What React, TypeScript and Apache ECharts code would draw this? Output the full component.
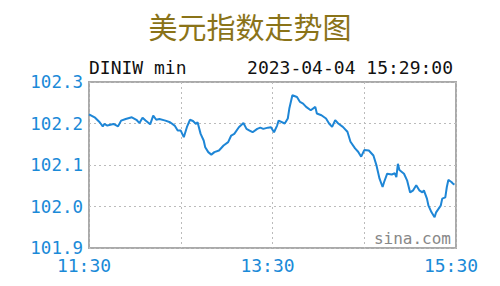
import React, { useEffect, useRef } from "react";
import * as echarts from "echarts";

const TITLE = "美元指数走势图";
const SYMBOL_LABEL = "DINIW min";
const TIMESTAMP = "2023-04-04 15:29:00";
const WATERMARK = "sina.com";

// minutes after 11:30
const minutes = [
  0, 4, 7, 9, 10, 12, 16, 19, 21, 24, 28, 31, 33, 35, 37, 40, 42, 44, 46, 50,
  53, 56, 58, 60, 62, 64, 66, 68, 70, 71, 73, 75, 76, 78, 80, 82, 85, 88, 91,
  93, 95, 98, 101, 103, 105, 107, 110, 112, 114, 117, 119, 121, 123, 124, 128,
  130, 131, 133, 136, 138, 140, 142, 145, 148, 149, 152, 155, 157, 159, 161,
  163, 166, 169, 171, 174, 176, 178, 180, 183, 186, 188, 190, 192, 193, 195,
  198, 200, 201, 202, 203, 206, 208, 210, 212, 214, 216, 218, 219, 221, 222,
  224, 226, 227, 230, 231, 233, 234, 235, 237, 238, 239,
];
const values = [
  102.222, 102.214, 102.203, 102.193, 102.199, 102.195, 102.199, 102.193,
  102.207, 102.211, 102.215, 102.209, 102.201, 102.214, 102.207, 102.198,
  102.219, 102.209, 102.211, 102.207, 102.203, 102.195, 102.183, 102.183,
  102.167, 102.191, 102.209, 102.206, 102.199, 102.203, 102.175, 102.159,
  102.143, 102.131, 102.125, 102.131, 102.135, 102.147, 102.155, 102.171,
  102.175, 102.191, 102.201, 102.187, 102.183, 102.179, 102.187, 102.19,
  102.187, 102.19, 102.191, 102.179, 102.195, 102.207, 102.2, 102.212,
  102.236, 102.268, 102.264, 102.252, 102.248, 102.24, 102.232, 102.24,
  102.224, 102.22, 102.212, 102.2, 102.192, 102.208, 102.2, 102.192, 102.18,
  102.156, 102.14, 102.132, 102.12, 102.136, 102.135, 102.123, 102.099,
  102.067, 102.047, 102.059, 102.079, 102.077, 102.08, 102.071, 102.103,
  102.088, 102.079, 102.063, 102.034, 102.039, 102.051, 102.039, 102.034,
  102.039, 102.019, 102.002, 101.986, 101.974, 101.986, 102.002, 102.019,
  102.022, 102.047, 102.064, 102.059, 102.055, 102.053,
];
const xTickMinutes = [0, 60, 120, 180, 240];
const xTickLabels = ["11:30", "", "13:30", "", "15:30"];
const yMin = 101.9;
const yMax = 102.3;
const yStep = 0.1;

const MONO = "'DejaVu Sans Mono', 'Liberation Mono', monospace";

export default function App() {
  const ref = useRef<HTMLDivElement>(null);
  useEffect(() => {
    if (!ref.current) return;
    const chart = echarts.init(ref.current, undefined, { renderer: "svg" });
    const data = minutes.map((m, i) => [m, values[i]]);
    chart.setOption({
      animation: false,
      backgroundColor: "#ffffff",
      title: {
        text: TITLE,
        left: "center",
        top: 6,
        textStyle: {
          color: "#8a7318",
          fontSize: 29,
          fontWeight: "normal",
          fontFamily: "'Noto Sans CJK SC', sans-serif",
        },
      },
      graphic: [
        {
          type: "text",
          left: 89,
          top: 58,
          style: {
            text: SYMBOL_LABEL,
            font: `18px ${MONO}`,
            fill: "#111",
          },
        },
        {
          type: "text",
          right: 47,
          top: 58,
          style: {
            text: TIMESTAMP,
            font: `18px ${MONO}`,
            fill: "#111",
          },
        },
        {
          type: "text",
          right: 49,
          top: 230,
          z: 10,
          style: {
            text: WATERMARK,
            font: `16px ${MONO}`,
            fill: "#888",
          },
        },
      ],
      grid: {
        left: 89,
        top: 82,
        width: 367,
        height: 166,
        show: true,
        borderColor: "#aaaaaa",
        borderWidth: 2,
        backgroundColor: "transparent",
      },
      xAxis: {
        type: "value",
        min: 0,
        max: 240,
        interval: 60,
        axisLine: { show: false },
        axisTick: { show: false },
        splitLine: {
          show: true,
          lineStyle: { color: "#bbbbbb", type: [2, 3], width: 1 },
        },
        axisLabel: {
          color: "#1a8ad8",
          fontFamily: MONO,
          fontSize: 18,
          margin: 8,
          padding: [0, 10, 0, 0],
          showMinLabel: true,
          showMaxLabel: true,
          formatter: (v: number) => {
            const idx = xTickMinutes.indexOf(v);
            return idx >= 0 ? xTickLabels[idx] : "";
          },
        },
      },
      yAxis: {
        type: "value",
        min: yMin,
        max: yMax,
        interval: yStep,
        axisLine: { show: false },
        axisTick: { show: false },
        splitLine: {
          show: true,
          lineStyle: { color: "#bbbbbb", type: [2, 3], width: 1 },
        },
        axisLabel: {
          color: "#1a8ad8",
          fontFamily: MONO,
          fontSize: 17.5,
          margin: 6,
          formatter: (v: number) => v.toFixed(1),
        },
      },
      series: [
        {
          type: "line",
          data,
          showSymbol: false,
          symbol: "none",
          lineStyle: { color: "#1e86d6", width: 2 },
        },
      ],
    });
    return () => chart.dispose();
  }, []);
  return <div ref={ref} style={{ width: 500, height: 286, margin: -8 }} />;
}
